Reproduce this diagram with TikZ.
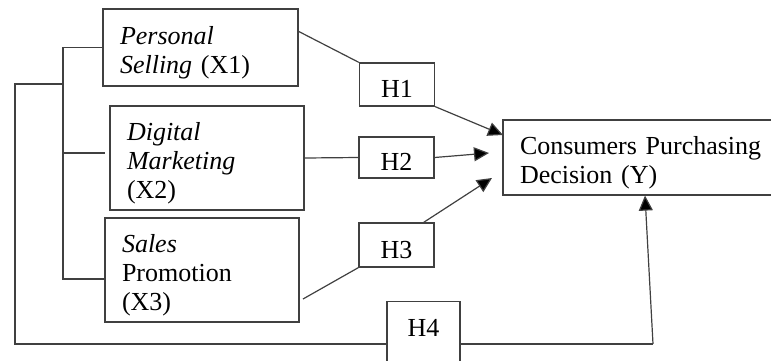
\documentclass[tikz,border=0pt]{standalone}
\usepackage{fontspec}
\setmainfont{Liberation Serif}
\usetikzlibrary{arrows.meta}

\begin{document}
\begin{tikzpicture}[x=0.5pt,y=-0.5pt,
  box/.style={draw=cbox,line width=0.6pt,rectangle,inner ysep=0pt,font=\fontsize{13}{14.5}\selectfont},
  var/.style={box,align=left,inner xsep=8.5pt,execute at begin node={\rule{0pt}{14pt}}},
  hyp/.style={box,align=center,inner xsep=0pt,minimum width=37.5pt,text height=13pt,text depth=0pt},
  link/.style={draw=cline,line width=0.6pt},
  arr/.style={link,-{Triangle[length=7.5pt,width=7pt,fill=black]}}]
\definecolor{cbox}{rgb}{0.25,0.25,0.25}
\definecolor{cline}{rgb}{0.25,0.25,0.25}
\useasboundingbox (0,0) rectangle (771,360);
%
\node[var,text width=80.5pt,minimum height=38.5pt] (ps) at (200.5,47.5) {\textit{Personal}\\\textit{Selling} (X1)};
\node[var,text width=80pt,minimum height=52pt] (dm) at (207,158) {\textit{Digital}\\\textit{Marketing}\\(X2)};
\node[var,text width=80pt,minimum height=52pt] (sp) at (202,270) {\textit{Sales}\\Promotion\\(X3)};
\node[var,text width=122pt,minimum height=37.5pt] (y) at (642,157.5) {Consumers Purchasing\\Decision (Y)};
\node[hyp,minimum height=21.5pt] (h1) at (397,84.5) {H1};
\node[hyp,minimum height=20.5pt] (h2) at (396.5,157.5) {H2};
\node[hyp,minimum height=22pt] (h3) at (396.5,245) {H3};
\node[hyp,minimum width=36.5pt,minimum height=30pt,text height=8.6pt,text depth=4pt,anchor=north] (h4) at (423.5,301) {H4};
%
\coordinate (tip1) at (503,135);
\coordinate (tip2) at (489,153);
\coordinate (tail3) at (303,299);
\coordinate (tip3) at (492,178);
\coordinate (j1) at (63,47.5);
\coordinate (j2) at (63,153);
\coordinate (j3) at (63,279);
\coordinate (j4) at (63,84);
\coordinate (d2) at (105,153);
\coordinate (c1) at (15,84);
\coordinate (c2) at (15,344);
\coordinate (c3) at (653,344);
%
\draw[link] ([yshift=-11.5pt]ps.north east) -- (h1.north west);
\draw[arr] (h1.south east) -- (tip1);
\draw[link] (dm.east) -- (h2.west);
\draw[arr] (h2.east) -- (tip2);
\draw[link] (tail3) -- (h3.south west);
\draw[arr] ([xshift=-5.5pt]h3.north east) -- (tip3);
\draw[link] (ps.west) -- (j1) -- (j3) -- (sp.west |- j3);
\draw[link] (j2) -- (d2);
\draw[link] (j4) -- (c1) -- (c2) -- (h4.west |- c2);
\draw[link] (h4.east |- c2) -- (c3);
\draw[arr] (c3) -- ([xshift=1.5pt]y.south);
%
\end{tikzpicture}
\end{document}
